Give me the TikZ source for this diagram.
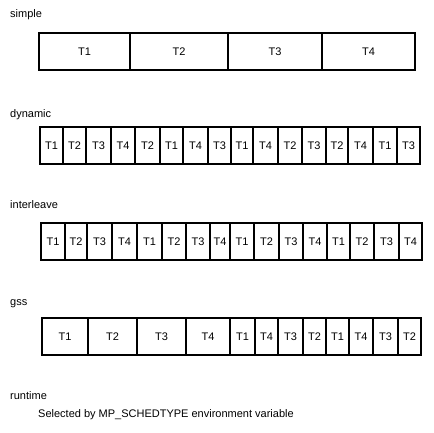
\documentclass[tikz,border=0pt]{standalone}
\usepackage{fontspec}
\setmainfont{Liberation Sans}
\tikzset{
  cellline/.style={draw=black, line width=1.1pt},
  celltext/.style={inner sep=0pt, font=\fontsize{11}{13}\selectfont, text=black},
  lbl/.style={anchor=west, inner sep=0pt, font=\fontsize{11}{13}\selectfont, text=black}
}
\newcommand\cellrow[4]{%
  \foreach \xa/\xb/\tx [count=\ci] in {#4} {
    \draw[cellline] (\xa,#1) rectangle (\xb,#2);
    \node[celltext] (#3\ci) at ({(\xa+\xb)/2},{(#1+#2)/2}) {\tx};
  }%
}
\begin{document}
\begin{tikzpicture}[x=1pt, y=-1pt]
\fill[white] (0,0) rectangle (433,433);
\useasboundingbox (0,0) rectangle (433,433);
\node[lbl] (lsimple) at (10,15) {simple};
\cellrow{33}{70}{s}{39/130/T1,130/228/T2,228/322/T3,322/415/T4}
\node[lbl] (ldynamic) at (10,115) {dynamic};
\cellrow{127}{164}{d}{40/63/T1,63/86/T2,86/111/T3,111/135/T4,135/160/T2,160/183/T1,183/208/T4,208/231/T3,231/253/T1,253/278/T4,278/302/T2,302/326/T3,326/348/T2,348/373/T4,373/397/T1,397/420/T3}
\node[lbl] (linter) at (10,205) {interleave};
\cellrow{223}{260}{i}{41/65/T1,65/87/T2,87/112/T3,112/137/T4,137/162/T1,162/186/T2,186/210/T3,210/230/T4,230/254/T1,254/279/T2,279/303/T3,303/327/T4,327/350/T1,350/374/T2,374/399/T3,399/422/T4}
\node[lbl] (lgss) at (10,304) {gss};
\cellrow{318}{355}{g}{42/88/T1,88/137/T2,137/186/T3,186/230/T4,230/255/T1,255/278/T4,278/303/T3,303/326/T2,326/349/T1,349/373/T4,373/398/T3,398/421/T2}
\node[lbl] (lruntime) at (10,396) {runtime};
\node[lbl] (lsel) at (38,415) {Selected by MP\_SCHEDTYPE environment variable};
\end{tikzpicture}
\end{document}
